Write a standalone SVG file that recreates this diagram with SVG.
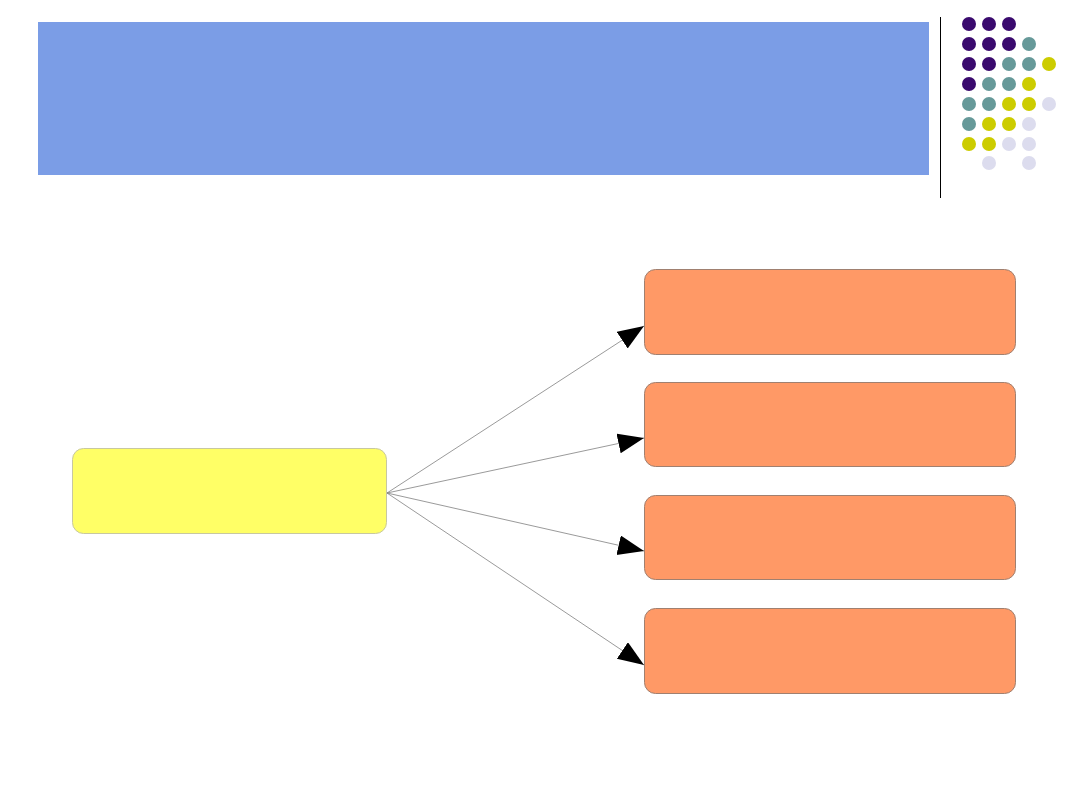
<svg xmlns="http://www.w3.org/2000/svg" width="1080" height="810" viewBox="0 0 1080 810">
<style>
.hdr{fill:#7b9de6}
.src{fill:#ffff66;stroke:#c8c8a0;stroke-width:1}
.dst{fill:#ff9966;stroke:#a08070;stroke-width:1}
.conn{stroke:#808080;stroke-width:0.8;fill:none}
.p{fill:#3a0a6e}.t{fill:#669999}.y{fill:#cccc00}.l{fill:#dcdcee}
</style>
<defs>
<marker id="ah" markerUnits="userSpaceOnUse" markerWidth="28" markerHeight="22" refX="26" refY="10" orient="auto">
<path d="M0,0 L26,10 L0,20 Z" fill="#000"/>
</marker>
</defs>
<rect width="1080" height="810" fill="#fff"/>
<g id="header"><rect class="hdr" x="38" y="22" width="891" height="153"/></g>
<line x1="940.500" y1="17" x2="940.500" y2="198" stroke="#000" stroke-width="1"/>
<g id="dots">
<circle class="p" cx="969" cy="24" r="7"/><circle class="p" cx="989" cy="24" r="7"/><circle class="p" cx="1009" cy="24" r="7"/>
<circle class="p" cx="969" cy="44" r="7"/><circle class="p" cx="989" cy="44" r="7"/><circle class="p" cx="1009" cy="44" r="7"/><circle class="t" cx="1029" cy="44" r="7"/>
<circle class="p" cx="969" cy="64" r="7"/><circle class="p" cx="989" cy="64" r="7"/><circle class="t" cx="1009" cy="64" r="7"/><circle class="t" cx="1029" cy="64" r="7"/><circle class="y" cx="1049" cy="64" r="7"/>
<circle class="p" cx="969" cy="84" r="7"/><circle class="t" cx="989" cy="84" r="7"/><circle class="t" cx="1009" cy="84" r="7"/><circle class="y" cx="1029" cy="84" r="7"/>
<circle class="t" cx="969" cy="104" r="7"/><circle class="t" cx="989" cy="104" r="7"/><circle class="y" cx="1009" cy="104" r="7"/><circle class="y" cx="1029" cy="104" r="7"/><circle class="l" cx="1049" cy="104" r="7"/>
<circle class="t" cx="969" cy="124" r="7"/><circle class="y" cx="989" cy="124" r="7"/><circle class="y" cx="1009" cy="124" r="7"/><circle class="l" cx="1029" cy="124" r="7"/>
<circle class="y" cx="969" cy="144" r="7"/><circle class="y" cx="989" cy="144" r="7"/><circle class="l" cx="1009" cy="144" r="7"/><circle class="l" cx="1029" cy="144" r="7"/>
<circle class="l" cx="989" cy="163" r="7"/><circle class="l" cx="1029" cy="163" r="7"/>
</g>
<g id="connectors">
<line class="conn" x1="387" y1="493" x2="644" y2="326" marker-end="url(#ah)"/>
<line class="conn" x1="387" y1="493" x2="644" y2="438" marker-end="url(#ah)"/>
<line class="conn" x1="387" y1="493" x2="644" y2="551" marker-end="url(#ah)"/>
<line class="conn" x1="387" y1="493" x2="644" y2="665" marker-end="url(#ah)"/>
</g>
<g id="source"><rect class="src" x="72.500" y="448.500" width="314" height="85" rx="11"/></g>
<g id="target1"><rect class="dst" x="644.500" y="269.500" width="371" height="85" rx="11"/></g>
<g id="target2"><rect class="dst" x="644.500" y="382.500" width="371" height="84" rx="11"/></g>
<g id="target3"><rect class="dst" x="644.500" y="495.500" width="371" height="84" rx="11"/></g>
<g id="target4"><rect class="dst" x="644.500" y="608.500" width="371" height="85" rx="11"/></g>
</svg>
